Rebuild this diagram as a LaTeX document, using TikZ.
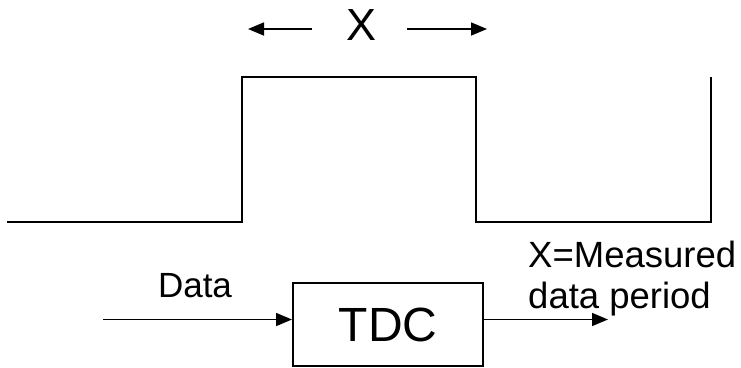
\documentclass[tikz,border=0pt]{standalone}
\usepackage{fontspec}
\setmainfont{Liberation Sans}
\usetikzlibrary{arrows.meta,positioning}

\begin{document}
\begin{tikzpicture}[x=1pt,y=-1pt,
  wave/.style={line width=2pt},
  sig/.style={line width=1.6pt,-{Triangle[length=16pt,width=13pt]}},
  block/.style={draw,line width=2pt,minimum width=190pt,minimum height=83pt,
    inner sep=0pt,font=\fontsize{48}{48}\selectfont},
  lbl/.style={inner sep=0pt,font=\fontsize{36.5}{41}\selectfont}]

  \useasboundingbox (0,0) rectangle (741,367);

  % measured signal
  \draw [wave] (7,222) -- (242,222) -- (242,77) -- (476,77)
    -- (476,222) -- (711,222) -- (711,77);

  % width of the pulse
  \node [inner sep=0pt,anchor=base,font=\fontsize{45}{45}\selectfont] (xw) at (362,40) {X};
  \coordinate (xl) at (312,29);
  \coordinate (xlt) at (248,29);
  \coordinate (xr) at (407,29);
  \coordinate (xrt) at (487,29);
  \draw [sig] (xl) -- (xlt);
  \draw [sig] (xr) -- (xrt);

  % converter
  \node [block] (tdc) at (388,324.5) {TDC};
  \coordinate (din) at (103,319.5);
  \coordinate (dout) at (608,319.5);
  \draw [sig] (din) -- (din -| tdc.west);
  \draw [sig] (dout -| tdc.east) -- (dout);

  \node [lbl,anchor=base,font=\fontsize{35}{41}\selectfont] (data) at (195,297) {Data};
  \node [lbl,anchor=north west,align=left] (res) at (528,241)
    {X=Measured\\data period};
\end{tikzpicture}
\end{document}
